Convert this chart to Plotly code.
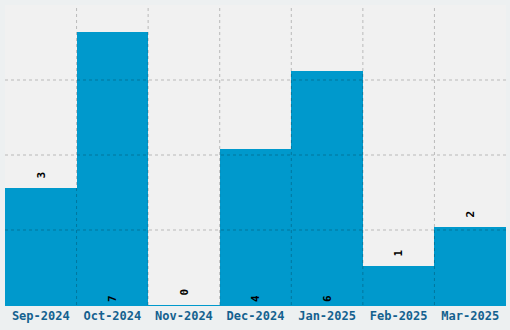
import plotly.graph_objects as go

months = ["Sep-2024", "Oct-2024", "Nov-2024", "Dec-2024", "Jan-2025", "Feb-2025", "Mar-2025"]
counts = [3, 7, 0, 4, 6, 1, 2]

ymax = max(counts) * 1.1
grid_vals = [ymax * k / 4 for k in range(1, 4)]
text_pos = ["inside" if v >= 4 else "outside" for v in counts]
labels = [str(v) if p == "inside" else " " + str(v) for v, p in zip(counts, text_pos)]

font_lbl = dict(family="DejaVu Sans Mono", size=11, color="#000000", weight="bold")

fig = go.Figure()
fig.add_trace(go.Bar(
    x=months, y=counts,
    marker=dict(color="#0099cc", line=dict(width=0)),
    text=labels,
    textposition=text_pos,
    insidetextanchor="start",
    textangle=-90,
    textfont=font_lbl,
    outsidetextfont=font_lbl,
    insidetextfont=font_lbl,
    cliponaxis=False,
    hoverinfo="skip",
))

grid_color = "rgba(0,0,0,0.23)"
shapes = []
for gv in grid_vals:
    shapes.append(dict(type="line", xref="paper", yref="y", x0=0, x1=1, y0=gv, y1=gv,
                       line=dict(color=grid_color, width=1, dash="3px,3px"), layer="above"))
for i in range(1, len(months)):
    shapes.append(dict(type="line", xref="x", yref="paper", x0=i - 0.5, x1=i - 0.5, y0=0, y1=1,
                       line=dict(color=grid_color, width=1, dash="3px,3px"), layer="above"))

fig.update_layout(
    width=510, height=330,
    margin=dict(l=5, r=4, t=5, b=25),
    paper_bgcolor="#edf0f1",
    plot_bgcolor="#f1f1f1",
    bargap=0,
    showlegend=False,
    shapes=shapes,
)
fig.update_xaxes(
    showgrid=False, zeroline=False,
    showline=True, linecolor="#0099cc", linewidth=1,
    ticks="", ticklen=0,
    tickfont=dict(family="DejaVu Sans Mono", size=12, color="#14618f", weight="bold"),
    range=[-0.5, len(months) - 0.5],
)
fig.update_yaxes(
    range=[0, ymax], showgrid=False, zeroline=False, showticklabels=False, ticks="",
)

fig.write_html("out.html")
